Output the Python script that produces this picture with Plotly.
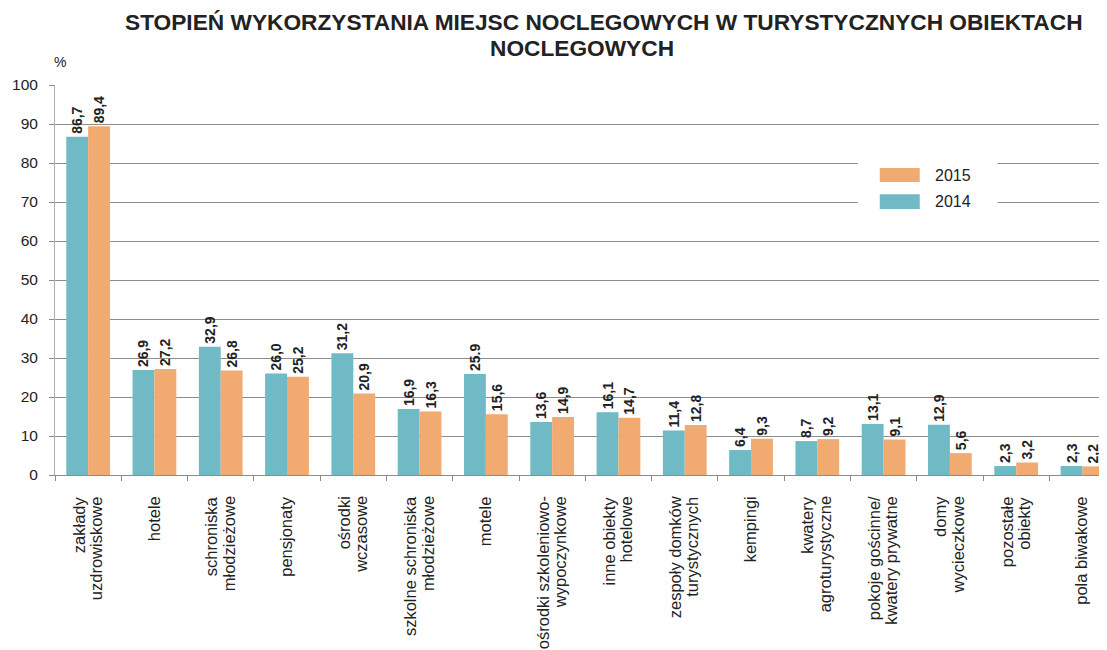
import plotly.graph_objects as go

categories = [
    "zakłady<br>uzdrowiskowe", "hotele", "schroniska<br>młodzieżowe", "pensjonaty",
    "ośrodki<br>wczasowe", "szkolne schroniska<br>młodzieżowe", "motele",
    "ośrodki szkoleniowo-<br>wypoczynkowe", "inne obiekty<br>hotelowe",
    "zespoły domków<br>turystycznych", "kempingi", "kwatery<br>agroturystyczne",
    "pokoje gościnne/<br>kwatery prywatne", "domy<br>wycieczkowe", "pozostałe<br>obiekty",
    "pola biwakowe",
]
values_2014 = [86.7, 26.9, 32.9, 26.0, 31.2, 16.9, 25.9, 13.6, 16.1, 11.4, 6.4, 8.7, 13.1, 12.9, 2.3, 2.3]
values_2015 = [89.4, 27.2, 26.8, 25.2, 20.9, 16.3, 15.6, 14.9, 14.7, 12.8, 9.3, 9.2, 9.1, 5.6, 3.2, 2.2]
labels_2014 = ["86,7", "26,9", "32,9", "26,0", "31,2", "16,9", "25.9", "13,6", "16,1", "11,4", "6,4", "8,7", "13,1", "12,9", "2,3", "2,3"]
labels_2015 = ["89,4", "27,2", "26,8", "25,2", "20,9", "16,3", "15,6", "14,9", "14,7", "12,8", "9,3", "9,2", "9,1", "5,6", "3,2", "2,2"]
y_ticks = [0, 10, 20, 30, 40, 50, 60, 70, 80, 90, 100]

C2014 = "#70bac5"
C2015 = "#f1aa70"
GRID = "#8c8c8c"
TXT = "#222222"
FONT = "Arial, Liberation Sans, sans-serif"

fig = go.Figure()
for vals, labs, name, col in [(values_2014, labels_2014, "2014", C2014),
                              (values_2015, labels_2015, "2015", C2015)]:
    fig.add_trace(go.Bar(
        x=categories, y=vals, name=name, marker=dict(color=col, line=dict(width=0)),
        text=labs, textposition="outside", textangle=-90, constraintext="none",
        textfont=dict(family=FONT, size=14, color=TXT, weight="bold"),
        cliponaxis=False,
    ))

# category labels: each line as its own rotated text, end-aligned just below the axis
for cat in categories:
    lines = cat.split("<br>")
    n = len(lines)
    for j, line in enumerate(lines):
        shift = (j - (n - 1) / 2) * 17.5
        fig.add_annotation(
            xref="x", yref="paper", x=cat, y=-0.052, text=line, showarrow=False,
            textangle=-90, xanchor="center", yanchor="top", xshift=shift - 1,
            font=dict(family=FONT, size=16.5, color=TXT), borderpad=0,
        )

# manual legend (white box hiding gridlines, wide swatches)
fig.add_shape(type="rect", xref="paper", yref="y", x0=0.763, x1=0.896, y0=66.5, y1=84,
              fillcolor="white", line=dict(width=0), layer="above")
fig.add_shape(type="rect", xref="paper", yref="y", x0=0.784, x1=0.822, y0=75.1, y1=78.7,
              fillcolor=C2015, line=dict(width=0), layer="above")
fig.add_shape(type="rect", xref="paper", yref="y", x0=0.784, x1=0.822, y0=68.2, y1=72.0,
              fillcolor=C2014, line=dict(width=0), layer="above")
fig.add_annotation(xref="paper", yref="y", x=0.835, y=76.9, text="2015", showarrow=False,
                   xanchor="left", yanchor="middle", font=dict(family=FONT, size=16, color=TXT))
fig.add_annotation(xref="paper", yref="y", x=0.835, y=70.1, text="2014", showarrow=False,
                   xanchor="left", yanchor="middle", font=dict(family=FONT, size=16, color=TXT))

# "%" unit label
fig.add_annotation(xref="paper", yref="paper", x=-0.003, y=1.059, text="%", showarrow=False,
                   xanchor="left", yanchor="middle", font=dict(family=FONT, size=14, color=TXT))

# title (two lines)
fig.add_annotation(xref="paper", yref="paper", x=0.522, y=1.1615,
                   text="STOPIEŃ WYKORZYSTANIA MIEJSC NOCLEGOWYCH W TURYSTYCZNYCH OBIEKTACH",
                   showarrow=False, xanchor="center", yanchor="middle",
                   font=dict(family=FONT, size=22.7, color=TXT, weight="bold"))
fig.add_annotation(xref="paper", yref="paper", x=0.501, y=1.095, text="NOCLEGOWYCH",
                   showarrow=False, xanchor="center", yanchor="middle",
                   font=dict(family=FONT, size=22.7, color=TXT, weight="bold"))

# the page body adds an 8px offset, so the figure is sized to end exactly at the window edge
fig.update_layout(
    width=1099, height=642,
    margin=dict(l=47, r=0, t=77, b=175, autoexpand=False),
    paper_bgcolor="white", plot_bgcolor="white",
    barmode="group", bargap=0.34, bargroupgap=0,
    showlegend=False,
    font=dict(family=FONT, color=TXT),
    xaxis=dict(
        type="category", range=[-0.5, 15.37], automargin=False,
        showticklabels=False,
        showline=True, linecolor=GRID, linewidth=1,
        ticks="outside", tickson="boundaries", ticklen=5, tickcolor=GRID,
        showgrid=False,
    ),
    yaxis=dict(
        range=[0, 100], tickvals=y_ticks, showgrid=True, gridcolor=GRID, gridwidth=1,
        tickfont=dict(family=FONT, size=15.5, color=TXT), automargin=False,
        ticks="outside", ticklen=5, tickcolor=GRID,
        showline=True, linecolor="#b0b0b0", linewidth=1,
        ticklabelstandoff=8, zeroline=False,
    ),
)

fig.write_html("out.html")
